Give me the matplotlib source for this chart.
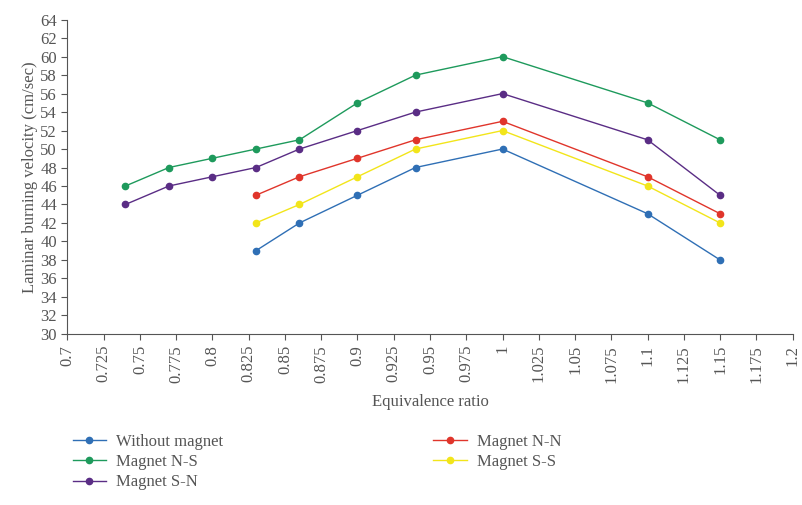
import matplotlib.pyplot as plt

plt.rcParams['font.family'] = ['Liberation Serif', 'DejaVu Serif']

ratio = [0.74, 0.77, 0.80, 0.83, 0.86, 0.90, 0.94, 1.0, 1.1, 1.15]
ratio_short = [0.83, 0.86, 0.90, 0.94, 1.0, 1.1, 1.15]

without_magnet = [39, 42, 45, 48, 50, 43, 38]
magnet_ns = [46, 48, 49, 50, 51, 55, 58, 60, 55, 51]
magnet_sn = [44, 46, 47, 48, 50, 52, 54, 56, 51, 45]
magnet_nn = [45, 47, 49, 51, 53, 47, 43]
magnet_ss = [42, 44, 47, 50, 52, 46, 42]

x_ticks = [0.7 + 0.025 * i for i in range(21)]
x_labels = ['0.7', '0.725', '0.75', '0.775', '0.8', '0.825', '0.85', '0.875', '0.9', '0.925', '0.95',
            '0.975', '1', '1.025', '1.05', '1.075', '1.1', '1.125', '1.15', '1.175', '1.2']
y_ticks = list(range(30, 65, 2))

text_color = '#555555'

fig = plt.figure(figsize=(8.03, 5.05), dpi=100)
ax = fig.add_axes([0.084, 0.339, 0.903, 0.622])

style = dict(marker='o', ms=4.5, lw=1)
lines = []
lines += ax.plot(ratio_short, without_magnet, color='#2f6fb5', label='Without magnet', **style)
lines += ax.plot(ratio, magnet_ns, color='#1e9a5c', label='Magnet N-S', **style)
lines += ax.plot(ratio, magnet_sn, color='#5a2d85', label='Magnet S-N', **style)
lines += ax.plot(ratio_short, magnet_nn, color='#e0352b', label='Magnet N-N', **style)
lines += ax.plot(ratio_short, magnet_ss, color='#f2e51a', label='Magnet S-S', **style)

ax.set_xlim(0.7, 1.2)
ax.set_ylim(30, 64)
ax.set_xticks(x_ticks)
ax.set_xticklabels(x_labels, rotation=90)
ax.set_yticks(y_ticks)
ax.tick_params(colors=text_color, labelsize=12, direction='out', length=4)
ax.tick_params(axis='x', pad=4)
for side in ['top', 'right']:
    ax.spines[side].set_visible(False)
for side in ['left', 'bottom']:
    ax.spines[side].set_color(text_color)

ax.set_ylabel('Laminar burning velocity (cm/sec)', color=text_color, fontsize=12, labelpad=2)
ax.set_xlabel('Equivalence ratio', color=text_color, fontsize=12, labelpad=8)

leg = fig.legend(handles=lines, ncol=2, loc='upper left', bbox_to_anchor=(0.072, 0.170), frameon=False,
                 fontsize=12, columnspacing=12.6, handlelength=2.0, handletextpad=0.6, labelspacing=0.25)
for t in leg.get_texts():
    t.set_color(text_color)

fig.savefig('out.png', dpi=100)
